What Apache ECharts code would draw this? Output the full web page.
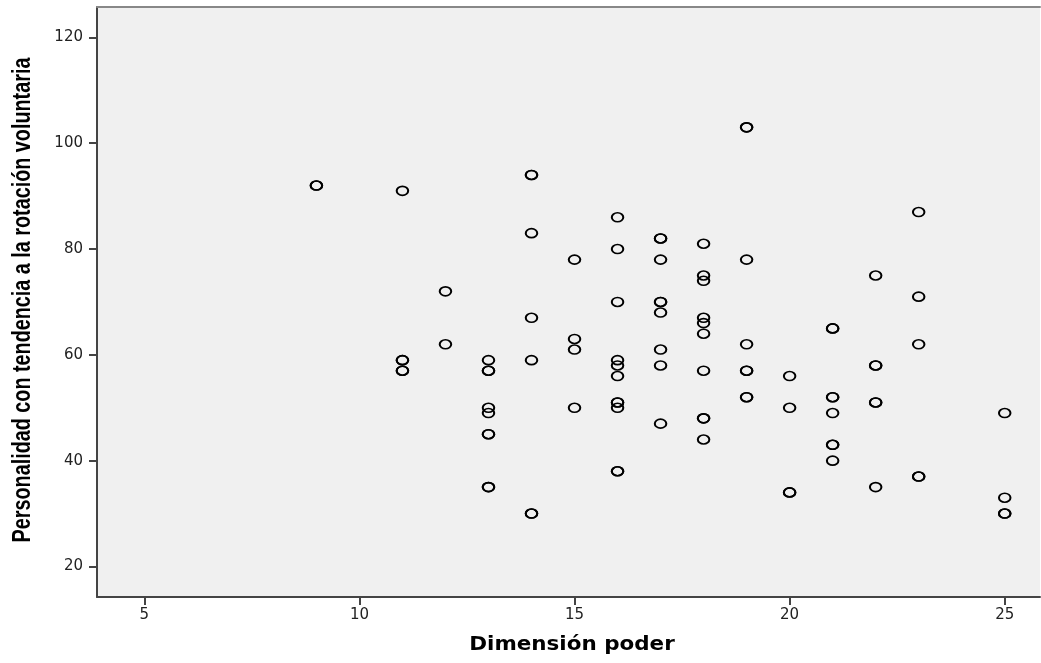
<!DOCTYPE html>
<html>
<head>
<meta charset="utf-8">
<script src="https://cdn.jsdelivr.net/npm/echarts@6/dist/echarts.min.js"></script>
<style>
html,body{margin:0;padding:0;background:#fff;}
#chart{width:1041px;height:663px;}
</style>
</head>
<body>
<div id="chart"></div>
<script>
// Dimensión poder (x) and Personalidad con tendencia a la rotación voluntaria (y)
// repeated pairs are overlapping cases (drawn darker in the original)
const dimensionPoder = [
  9, 9,
  11, 11, 11, 11, 11,
  12, 12,
  13, 13, 13, 13, 13, 13, 13, 13, 13,
  14, 14, 14, 14, 14, 14, 14,
  15, 15, 15, 15,
  16, 16, 16, 16, 16, 16, 16, 16, 16, 16, 16,
  17, 17, 17, 17, 17, 17, 17, 17, 17,
  18, 18, 18, 18, 18, 18, 18, 18, 18, 18,
  19, 19, 19, 19, 19, 19, 19, 19,
  20, 20, 20, 20,
  21, 21, 21, 21, 21, 21, 21, 21,
  22, 22, 22, 22, 22, 22,
  23, 23, 23, 23, 23,
  25, 25, 25, 25
];
const personalidad = [
  92, 92,
  91, 59, 59, 57, 57,
  72, 62,
  59, 57, 57, 50, 49, 45, 45, 35, 35,
  94, 94, 83, 67, 59, 30, 30,
  78, 63, 61, 50,
  86, 80, 70, 59, 58, 56, 51, 51, 50, 38, 38,
  82, 82, 78, 70, 70, 68, 61, 58, 47,
  81, 75, 74, 67, 66, 64, 57, 48, 48, 44,
  103, 103, 78, 62, 57, 57, 52, 52,
  56, 50, 34, 34,
  65, 65, 52, 52, 49, 43, 43, 40,
  75, 58, 58, 51, 51, 35,
  87, 71, 62, 37, 37,
  49, 33, 30, 30
];
const xTicks = [5, 10, 15, 20, 25];
const yTicks = [20, 40, 60, 80, 100, 120];
const xTitle = 'Dimensión poder';
const yTitle = 'Personalidad con tendencia a la rotación voluntaria';

const points = dimensionPoder.map((x, i) => [x, personalidad[i]]);

const chart = echarts.init(document.getElementById('chart'), null, {renderer: 'canvas'});
const labelFont = {fontFamily: 'DejaVu Sans', fontSize: 15, color: '#222'};
chart.setOption({
  animation: false,
  backgroundColor: '#ffffff',
  grid: {left: 97, right: 1, top: 7, bottom: 66, show: true, backgroundColor: '#f0f0f0', borderWidth: 0},
  xAxis: [{
    type: 'value', min: 3.9, max: 25.82, position: 'bottom',
    axisLine: {show: true, onZero: false, lineStyle: {color: '#444', width: 2}},
    axisTick: {show: true, length: 8, customValues: xTicks, lineStyle: {color: '#444', width: 2}},
    axisLabel: Object.assign({customValues: xTicks, margin: 11}, labelFont),
    splitLine: {show: false}
  }, {
    type: 'value', min: 3.9, max: 25.82, position: 'top',
    axisLine: {show: true, onZero: false, lineStyle: {color: '#888', width: 2}},
    axisTick: {show: false}, axisLabel: {show: false}, splitLine: {show: false}
  }],
  yAxis: {
    type: 'value', min: 14.23, max: 125.75,
    axisLine: {show: true, onZero: false, lineStyle: {color: '#444', width: 2}},
    axisTick: {show: true, length: 8, customValues: yTicks, lineStyle: {color: '#444', width: 2}},
    axisLabel: Object.assign({customValues: yTicks, margin: 14}, labelFont),
    splitLine: {show: false}
  },
  graphic: [{
    type: 'text', x: 572, y: 645, scaleX: 1.1, scaleY: 1,
    style: {text: xTitle, font: 'bold 19.5px "DejaVu Sans", sans-serif', fill: '#000',
            align: 'center', verticalAlign: 'middle'}
  }, {
    type: 'text', x: 23, y: 300, rotation: Math.PI / 2, scaleX: 1, scaleY: 1.33,
    style: {text: yTitle, font: 'bold 19.8px "Liberation Sans", Arial, sans-serif', fill: '#000',
            align: 'center', verticalAlign: 'middle'}
  }],
  series: [{
    type: 'scatter',
    xAxisIndex: 0,
    data: points,
    symbol: 'path://M0,5a5,5 0 1,0 10,0a5,5 0 1,0 -10,0Z',
    symbolSize: [11.5, 9],
    itemStyle: {color: 'rgba(0,0,0,0)', borderColor: '#000', borderWidth: 1.8, opacity: 1}
  }]
});
</script>
</body>
</html>
